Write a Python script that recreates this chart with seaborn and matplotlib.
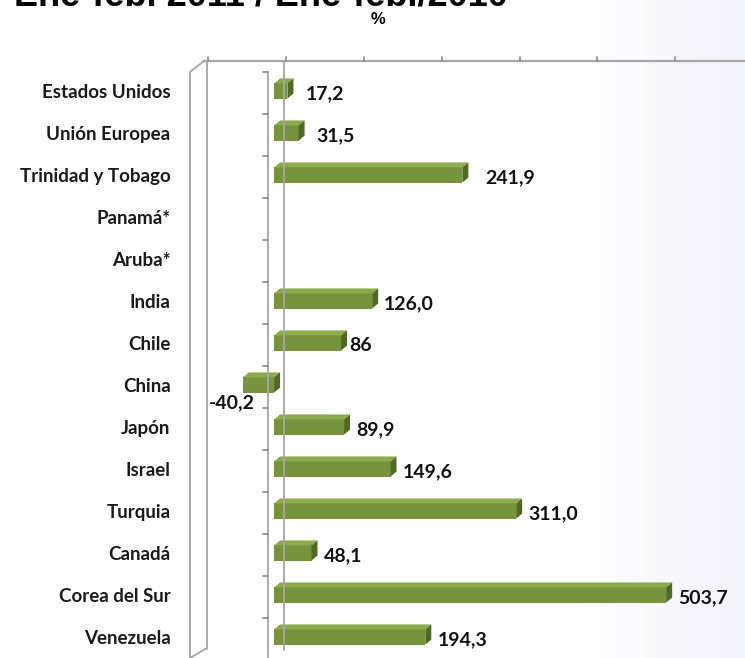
import numpy as np
import pandas as pd
import matplotlib
matplotlib.use("Agg")
import matplotlib.pyplot as plt
from matplotlib.lines import Line2D
from matplotlib.patches import Polygon
from matplotlib.colors import LinearSegmentedColormap
import seaborn as sns

# ---------------- data ----------------
categories = ["Estados Unidos", "Unión Europea", "Trinidad y Tobago", "Panamá*",
              "Aruba*", "India", "Chile", "China", "Japón", "Israel", "Turquia",
              "Canadá", "Corea del Sur", "Venezuela"]
values = [17.2, 31.5, 241.9, np.nan, np.nan, 126.0, 86, -40.2, 89.9, 149.6,
          311.0, 48.1, 503.7, 194.3]
value_labels = ["17,2", "31,5", "241,9", "", "", "126,0", "86", "-40,2", "89,9",
                "149,6", "311,0", "48,1", "503,7", "194,3"]
title = "Ene-feb. 2011 / Ene-feb./2010"
subtitle = "%"
grid_ticks = [-100, 0, 100, 200, 300, 400, 500]

# ---------------- style ----------------
sns.set_style("white")
plt.rcParams["font.family"] = ["Lato", "DejaVu Sans"]

W, H = 745, 658
fig = plt.figure(figsize=(W / 100, H / 100), dpi=100)
fig.patch.set_facecolor("white")

def fx(px):
    return px / W

def fy(py):
    return 1 - py / H

# faint bluish gradient background on the right
bg = fig.add_axes([fx(590), 0, 1 - fx(590), 1], zorder=-10)
bg.axis("off")
grad = np.linspace(0, 1, 256).reshape(1, -1)
cmap_bg = LinearSegmentedColormap.from_list("bg", ["#ffffff", "#f6f9fc", "#f1f6fb"])
bg.imshow(grad, aspect="auto", cmap=cmap_bg, extent=(0, 1, 0, 1))

ax = fig.add_axes([fx(190), 0, fx(745) - fx(190), 1 - 61 / H])
ax.patch.set_alpha(0)

df = pd.DataFrame({"pais": categories, "valor": values}).dropna()
FRONT = "#77933c"
TOP = "#8cab4c"
SIDE = "#4f6a22"
sns.barplot(data=df, y="pais", x="valor", order=categories, orient="h",
            color=FRONT, width=0.36, linewidth=0, saturation=1, ax=ax, zorder=3)

ax.set_xlim(-108, 605)
ax.set_ylim(13.5, -0.714)
for s in ax.spines.values():
    s.set_visible(False)
ax.set_xlabel("")
ax.set_ylabel("")
ax.set_xticks([])
ax.set_yticks(range(len(categories)))
ax.set_yticklabels(categories, fontsize=13.5, fontweight="bold", color="#1a1a1a")
ax.tick_params(axis="y", length=0, pad=14)

def data_to_px(x, y):
    dx, dy = ax.transData.transform((x, y))
    return dx, H - dy

def px_to_data(px, py):
    inv = ax.transData.inverted()
    return inv.transform((px, H - py))

fig.canvas.draw()
x0d, y0d = px_to_data(0, 0)
x1d, y1d = px_to_data(6, 5)
depth_x = x1d - x0d
depth_y = -abs(y1d - y0d)

# 3D faces for each bar
for p in list(ax.patches):
    w = p.get_width()
    if not np.isfinite(w):
        continue
    xl = min(p.get_x(), p.get_x() + w)
    xr = max(p.get_x(), p.get_x() + w)
    ytop = min(p.get_y(), p.get_y() + p.get_height())
    ybot = max(p.get_y(), p.get_y() + p.get_height())
    top = Polygon([(xl, ytop), (xr, ytop), (xr + depth_x, ytop + depth_y),
                   (xl + depth_x, ytop + depth_y)], closed=True,
                  facecolor=TOP, edgecolor="none", zorder=3)
    side = Polygon([(xr, ytop), (xr, ybot), (xr + depth_x, ybot + depth_y),
                    (xr + depth_x, ytop + depth_y)], closed=True,
                   facecolor=SIDE, edgecolor="none", zorder=3)
    ax.add_patch(top)
    ax.add_patch(side)

# value labels
label_pad = [12, 12, 17, 6, 6, 6, 2, 6, 6, 6, 6, 6, 6, 6]
for i, (v, lab) in enumerate(zip(values, value_labels)):
    if not np.isfinite(v) or lab == "":
        continue
    if v >= 0:
        ax.annotate(lab, xy=(v + depth_x, i), xytext=(label_pad[i] * 0.72, -2),
                    textcoords="offset points", ha="left", va="center",
                    fontsize=14, fontweight="bold", color="#111111")
    else:
        ax.annotate(lab, xy=(v, i), xytext=(-8, -13),
                    textcoords="offset points", ha="center", va="center",
                    fontsize=14, fontweight="bold", color="#111111")

# ---------- axis decorations (walls, axes lines, ticks) ----------
GRAY = "#a6a6a6"
def fline(xs, ys, lw=1.3, color=GRAY):
    fig.add_artist(Line2D([fx(x) for x in xs], [fy(y) for y in ys],
                          color=color, lw=lw, transform=fig.transFigure, zorder=1))

zero_px, _ = data_to_px(0, 0)
back_dx = 12
fline([203, W], [61, 61], lw=1.6)
for t in grid_ticks:
    tx, _ = data_to_px(t, 0)
    fline([tx + back_dx, tx + back_dx], [57, 61], lw=1.2, color="#8a8a8a")
fline([zero_px + 10, zero_px + 10], [61, 650], lw=1.3)
fline([zero_px - 6, zero_px - 6], [72, H], lw=1.3)
for i in range(len(categories)):
    _, sy = data_to_px(0, i - 0.5)
    fline([zero_px - 11, zero_px - 6], [sy + 2, sy + 2], lw=1.2, color="#8a8a8a")
fline([190, 190], [72, H], lw=1.3)
fline([207, 207], [61, 649], lw=1.3)
fline([190, 204], [72, 61], lw=1.3)
fline([190, 207], [H, 648], lw=1.3)

# title (mostly cut off at top, as in the reference) and subtitle
fig.text(fx(261), fy(5), title, ha="center", va="baseline", fontsize=26,
         fontweight="bold", family=["Liberation Sans", "DejaVu Sans"], color="black")
fig.text(fx(378), fy(20), subtitle, ha="center", va="center", fontsize=12,
         fontweight="bold", family=["Liberation Sans", "DejaVu Sans"], color="black")

fig.savefig("out.png", dpi=100)
